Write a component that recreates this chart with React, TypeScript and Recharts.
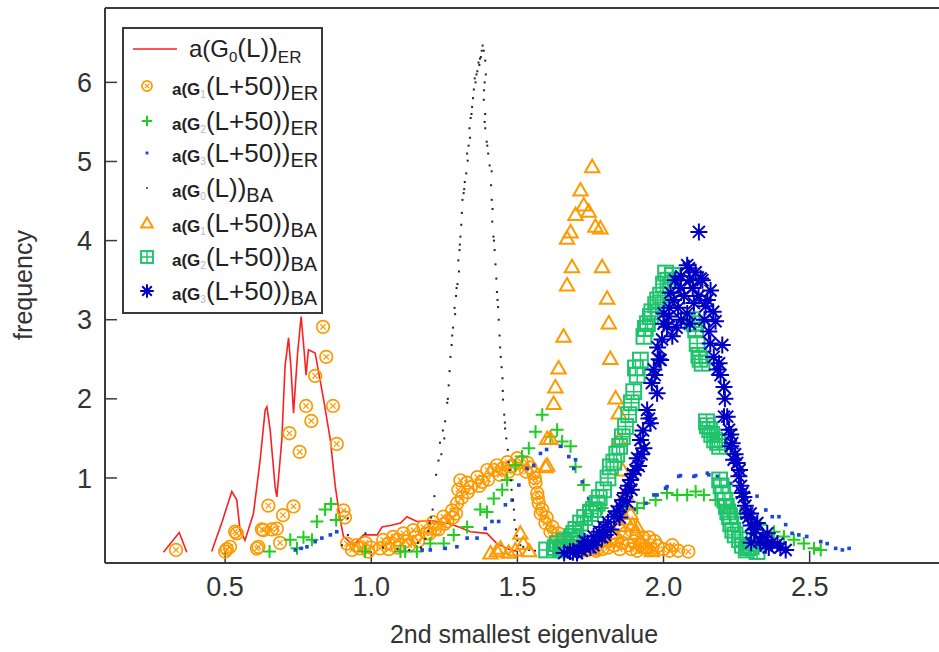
import React from 'react';
import { ComposedChart, Scatter, XAxis, YAxis } from 'recharts';

const FONT = '"Liberation Sans", Arial, Helvetica, sans-serif';
const TEXT = '#333333';
const AXIS = '#3a3a3a';
const RED = '#ff1f1f';
const ORANGE = '#ff9900';
const GREEN = '#22cc22';
const BLUE = '#1f45d6';
const BLACK = '#222222';
const EMERALD = '#1ec46c';
const NAVY = '#0000c4';

const X_TICKS = [0.5, 1.0, 1.5, 2.0, 2.5];
const Y_TICKS = [1, 2, 3, 4, 5, 6];
const X_DOMAIN = [0.089, 2.946];
const Y_DOMAIN = [-0.075, 6.94];

const X_LABEL = '2nd smallest eigenvalue';
const Y_LABEL = 'frequency';

// a(G0(L))ER  (red line, two segments)
const ER_G0_A = [[0.289, 0.06], [0.343, 0.31], [0.369, 0.06]];
const ER_G0_B = [
  [0.454, 0.07], [0.49, 0.45], [0.523, 0.83], [0.54, 0.72], [0.551, 0.34], [0.568, 0.21],
  [0.597, 0.55], [0.62, 1.23], [0.637, 1.86], [0.643, 1.9], [0.654, 1.61], [0.671, 0.89],
  [0.677, 0.76], [0.694, 1.48], [0.705, 2.41], [0.717, 2.77], [0.725, 2.41], [0.734, 1.82],
  [0.748, 2.58], [0.76, 3.04], [0.77, 2.62], [0.777, 2.3], [0.785, 2.62], [0.808, 2.58],
  [0.837, 1.99], [0.86, 1.48], [0.877, 0.89], [0.894, 0.47], [0.905, 0.26], [0.939, 0.15],
  [0.974, 0.28], [1.02, 0.28], [1.037, 0.38], [1.065, 0.4], [1.1, 0.43], [1.122, 0.51],
  [1.156, 0.45], [1.2, 0.46], [1.259, 0.43], [1.3, 0.38], [1.339, 0.32], [1.396, 0.3],
  [1.43, 0.17], [1.47, 0.1], [1.5, 0.07],
];

// a(G1(L+50))ER  (orange circles)
const ER_G1 = [
  [0.332, 0.09], [0.5, 0.07], [0.506, 0.1], [0.517, 0.13], [0.534, 0.32], [0.54, 0.3],
  [0.609, 0.11], [0.614, 0.13], [0.626, 0.35], [0.631, 0.34], [0.66, 0.35], [0.677, 0.36],
  [0.688, 0.18], [0.648, 0.65], [0.698, 0.53], [0.734, 0.64], [0.72, 1.565], [0.755, 1.33],
  [0.777, 1.91], [0.795, 1.72], [0.808, 2.29], [0.835, 2.91], [0.846, 2.53], [0.869, 1.91],
  [0.882, 1.43], [0.905, 0.59], [0.91, 0.5], [0.917, 0.17], [0.934, 0.09], [0.95, 0.15],
  [0.962, 0.11], [0.98, 0.18], [0.99, 0.07], [1.0, 0.12], [1.03, 0.11], [1.041, 0.216],
  [1.059, 0.17], [1.06, 0.1], [1.075, 0.255], [1.088, 0.22], [1.09, 0.12], [1.11, 0.3],
  [1.12, 0.2], [1.13, 0.15], [1.144, 0.34], [1.15, 0.25], [1.16, 0.2], [1.178, 0.38],
  [1.19, 0.3], [1.2, 0.3], [1.212, 0.44], [1.22, 0.36], [1.23, 0.35], [1.247, 0.51],
  [1.25, 0.42], [1.26, 0.45], [1.277, 0.59], [1.28, 0.5], [1.29, 0.55], [1.294, 0.68],
  [1.298, 0.85], [1.305, 0.97], [1.31, 0.75], [1.328, 0.94], [1.33, 0.82], [1.34, 0.88],
  [1.363, 1.01], [1.37, 0.9], [1.38, 0.95], [1.397, 1.1], [1.4, 0.98], [1.42, 1.1],
  [1.43, 1.16], [1.44, 1.04], [1.45, 1.12], [1.466, 1.2], [1.47, 1.08], [1.48, 1.15],
  [1.5, 1.25], [1.5, 1.12], [1.515, 1.2], [1.534, 1.19], [1.53, 1.08], [1.545, 1.13],
  [1.555, 1.06], [1.56, 1.0], [1.562, 0.94], [1.568, 0.81], [1.57, 0.75], [1.573, 0.68],
  [1.58, 0.55], [1.585, 0.6], [1.596, 0.43], [1.6, 0.5], [1.613, 0.32], [1.62, 0.38],
  [1.637, 0.24], [1.64, 0.3], [1.654, 0.18], [1.66, 0.1], [1.675, 0.2], [1.69, 0.12],
  [1.72, 0.1], [1.75, 0.14], [1.77, 0.08], [1.78, 0.18], [1.79, 0.1], [1.8, 0.22],
  [1.81, 0.12], [1.82, 0.25], [1.83, 0.15], [1.84, 0.22], [1.85, 0.1], [1.86, 0.18],
  [1.87, 0.3], [1.88, 0.15], [1.89, 0.1], [1.9, 0.2], [1.91, 0.08], [1.92, 0.15],
  [1.93, 0.25], [1.94, 0.12], [1.95, 0.25], [1.96, 0.1], [1.97, 0.2], [1.98, 0.14],
  [2.0, 0.1], [2.02, 0.08], [2.03, 0.15], [2.05, 0.08], [2.085, 0.07],
];

// a(G2(L+50))ER  (green plus)
const ER_G2 = [
  [0.652, 0.07], [0.723, 0.22], [0.746, 0.11], [0.768, 0.25], [0.797, 0.22], [0.814, 0.45],
  [0.842, 0.6], [0.862, 0.67], [0.88, 0.47], [0.979, 0.07], [1.1, 0.07], [1.116, 0.07],
  [1.156, 0.07], [1.202, 0.17], [1.248, 0.17], [1.282, 0.28], [1.328, 0.38], [1.373, 0.6],
  [1.396, 0.57], [1.419, 0.74], [1.448, 0.85], [1.465, 0.975], [1.493, 1.16], [1.516, 1.27],
  [1.539, 1.375], [1.562, 1.585], [1.585, 1.8], [1.613, 1.52], [1.636, 1.61], [1.653, 1.46],
  [1.682, 1.4], [1.699, 1.14], [1.727, 0.91], [1.744, 0.66], [1.79, 0.62], [1.84, 0.58],
  [1.87, 0.6], [1.91, 0.62], [1.933, 0.68], [1.973, 0.72], [2.012, 0.81], [2.047, 0.785],
  [2.081, 0.785], [2.11, 0.83], [2.138, 0.785], [2.178, 0.72], [2.207, 0.64], [2.23, 0.62],
  [2.264, 0.55], [2.298, 0.47], [2.332, 0.41], [2.378, 0.32], [2.412, 0.26], [2.446, 0.22],
  [2.48, 0.17], [2.515, 0.11], [2.538, 0.09],
];

// a(G3(L+50))ER  (blue small squares)
const ER_G3 = [
  [0.74, 0.09], [0.76, 0.11], [0.78, 0.13], [0.808, 0.195], [0.831, 0.24], [0.86, 0.28],
  [0.882, 0.32], [1.174, 0.09], [1.202, 0.09], [1.253, 0.11], [1.293, 0.13], [1.328, 0.24],
  [1.362, 0.24], [1.39, 0.36], [1.413, 0.45], [1.436, 0.45], [1.459, 0.66], [1.482, 0.72],
  [1.505, 0.91], [1.533, 1.12], [1.556, 1.16], [1.579, 1.31], [1.6, 1.36], [1.647, 1.4],
  [1.676, 1.27], [1.693, 1.12], [1.699, 1.23], [1.722, 0.95], [1.744, 0.74], [1.78, 0.6],
  [1.82, 0.55], [1.86, 0.55], [1.9, 0.6], [1.94, 0.68], [1.967, 0.785], [1.978, 0.785],
  [2.007, 0.87], [2.012, 0.89], [2.052, 1.02], [2.058, 1.03], [2.104, 1.02], [2.11, 1.03],
  [2.15, 1.06], [2.155, 1.04], [2.184, 1.02], [2.23, 0.93], [2.27, 0.85], [2.32, 0.77],
  [2.35, 0.595], [2.372, 0.51], [2.395, 0.51], [2.418, 0.41], [2.44, 0.3], [2.463, 0.28],
  [2.49, 0.26], [2.538, 0.195], [2.56, 0.17], [2.589, 0.11], [2.612, 0.09], [2.635, 0.11],
];

// a(G0(L))BA  (black dots)
const BA_G0 = [
  [0.9, 0.15], [0.92, 0.28], [0.92, 0.49], [0.98, 0.3], [1.04, 0.12], [1.09, 0.1],
  [1.13, 0.09], [1.16, 0.18], [1.17, 0.12], [1.185, 0.23], [1.195, 0.33], [1.2, 0.43],
  [1.205, 0.5], [1.21, 0.6], [1.216, 0.77], [1.222, 1.04], [1.23, 1.22], [1.235, 1.445],
  [1.24, 1.3], [1.245, 1.6], [1.25, 1.5], [1.253, 1.716], [1.26, 1.95], [1.262, 2.0],
  [1.265, 2.17], [1.268, 2.35], [1.271, 2.53], [1.275, 2.68], [1.277, 2.8], [1.28, 2.9],
  [1.285, 3.15], [1.287, 3.07], [1.29, 3.3], [1.292, 3.4], [1.295, 3.45], [1.298, 3.75],
  [1.3, 3.61], [1.302, 3.88], [1.303, 3.95], [1.305, 4.05], [1.308, 4.2], [1.31, 4.35],
  [1.312, 4.515], [1.316, 4.6], [1.318, 4.65], [1.32, 4.74], [1.325, 4.85], [1.328, 5.1],
  [1.33, 5.01], [1.333, 5.2], [1.336, 5.42], [1.338, 5.3], [1.34, 5.55], [1.343, 5.6],
  [1.345, 5.69], [1.348, 5.8], [1.351, 5.91], [1.354, 6.05], [1.357, 6.0], [1.36, 6.1],
  [1.363, 6.14], [1.367, 6.25], [1.37, 6.22], [1.372, 6.3], [1.375, 6.32], [1.378, 6.4],
  [1.381, 6.465], [1.385, 6.4], [1.39, 6.275], [1.392, 6.1], [1.388, 6.0], [1.386, 5.9],
  [1.385, 5.78], [1.39, 5.6], [1.388, 5.5], [1.39, 5.42], [1.395, 5.25], [1.397, 5.2],
  [1.4, 5.1], [1.405, 4.95], [1.412, 4.876], [1.41, 4.7], [1.412, 4.515], [1.415, 4.4],
  [1.414, 4.24], [1.418, 4.05], [1.42, 4.0], [1.422, 3.88], [1.425, 3.7], [1.428, 3.52],
  [1.43, 3.35], [1.432, 3.25], [1.434, 3.16], [1.436, 3.0], [1.439, 2.8], [1.441, 2.65],
  [1.443, 2.53], [1.446, 2.4], [1.449, 2.26], [1.45, 2.1], [1.451, 1.99], [1.455, 1.8],
  [1.457, 1.7], [1.458, 1.625], [1.462, 1.5], [1.467, 1.355], [1.47, 1.2], [1.474, 1.1],
  [1.478, 0.97], [1.48, 0.85], [1.485, 0.72], [1.488, 0.6], [1.49, 0.47], [1.495, 0.35],
  [1.498, 0.27], [1.5, 0.21], [1.51, 0.15], [1.52, 0.13], [1.53, 0.1], [1.54, 0.09], [1.56, 0.08],
];

// a(G1(L+50))BA  (orange triangles)
const BA_G1 = [
  [1.408, 0.05], [1.43, 0.08], [1.442, 0.11], [1.47, 0.06], [1.493, 0.09], [1.51, 0.3],
  [1.52, 0.17], [1.54, 0.08], [1.596, 1.14], [1.602, 1.16], [1.602, 1.5], [1.613, 1.5],
  [1.624, 1.94], [1.63, 2.15], [1.641, 2.39], [1.658, 2.79], [1.67, 3.44], [1.687, 3.67],
  [1.67, 4.03], [1.682, 4.11], [1.699, 4.33], [1.727, 4.45], [1.716, 4.64], [1.756, 4.935],
  [1.744, 4.37], [1.767, 4.18], [1.784, 4.16], [1.79, 3.67], [1.807, 3.27], [1.813, 2.96],
  [1.818, 2.51], [1.836, 2.01], [1.847, 1.82], [1.847, 1.48], [1.86, 1.1], [1.87, 0.8],
  [1.887, 0.55], [1.893, 0.41], [1.904, 0.3], [1.91, 0.38], [1.921, 0.19], [1.8, 0.2],
  [1.83, 0.3], [1.85, 0.4], [1.87, 0.48], [1.94, 0.12], [1.96, 0.08], [1.76, 0.1], [1.72, 0.08],
];

// a(G2(L+50))BA  (green grid squares)
const BA_G2 = [
  [1.6, 0.09], [1.63, 0.12], [1.637, 0.17], [1.647, 0.11], [1.653, 0.09], [1.66, 0.2],
  [1.664, 0.13], [1.68, 0.22], [1.687, 0.26], [1.693, 0.3], [1.7, 0.35], [1.716, 0.43],
  [1.73, 0.5], [1.75, 0.55], [1.76, 0.6], [1.773, 0.68], [1.78, 0.75], [1.795, 0.85],
  [1.81, 1.0], [1.818, 1.14], [1.83, 1.2], [1.84, 1.3], [1.85, 1.4], [1.859, 1.52],
  [1.87, 1.65], [1.881, 1.8], [1.89, 1.95], [1.898, 2.09], [1.904, 2.39], [1.91, 2.3],
  [1.921, 2.49], [1.933, 2.79], [1.938, 2.89], [1.945, 2.95], [1.955, 3.04], [1.96, 3.1],
  [1.973, 3.19], [1.98, 3.25], [1.99, 3.31], [2.0, 3.45], [2.007, 3.59], [2.015, 3.5],
  [2.024, 3.44], [2.03, 3.56], [2.098, 3.0], [2.105, 2.95], [2.11, 2.87], [2.115, 2.7],
  [2.121, 2.55], [2.125, 2.5], [2.132, 2.45], [2.147, 1.71], [2.15, 1.66], [2.158, 1.61],
  [2.165, 1.55], [2.175, 1.48], [2.185, 1.45], [2.192, 1.4], [2.192, 0.975], [2.197, 0.9],
  [2.203, 0.81], [2.21, 0.72], [2.215, 0.64], [2.22, 0.57], [2.226, 0.51], [2.23, 0.42],
  [2.237, 0.34], [2.245, 0.28], [2.26, 0.22], [2.27, 0.15], [2.283, 0.09], [2.29, 0.12],
  [2.3, 0.13], [2.32, 0.07],
];

// a(G3(L+50))BA  (navy asterisks)
const BA_G3 = [
  [1.66, 0.05], [1.68, 0.07], [1.69, 0.06], [1.704, 0.05], [1.71, 0.1], [1.72, 0.08],
  [1.727, 0.13], [1.73, 0.2], [1.74, 0.18], [1.75, 0.12], [1.76, 0.15], [1.761, 0.26],
  [1.77, 0.2], [1.78, 0.32], [1.79, 0.25], [1.795, 0.38], [1.8, 0.28], [1.81, 0.44],
  [1.82, 0.35], [1.83, 0.51], [1.84, 0.58], [1.85, 0.5], [1.853, 0.64], [1.86, 0.72],
  [1.87, 0.81], [1.875, 0.7], [1.88, 0.9], [1.887, 0.975], [1.89, 0.85], [1.895, 1.05],
  [1.904, 1.1], [1.91, 1.25], [1.915, 1.15], [1.921, 1.48], [1.925, 1.3], [1.933, 1.375],
  [1.93, 1.6], [1.944, 1.86], [1.95, 1.75], [1.955, 1.69], [1.96, 2.2], [1.967, 2.37],
  [1.97, 2.3], [1.978, 2.07], [1.98, 2.65], [1.985, 2.5], [1.99, 2.49], [1.995, 2.75],
  [2.0, 2.95], [2.001, 3.08], [2.012, 2.91], [2.018, 3.04], [2.02, 3.15], [2.024, 3.34],
  [2.03, 2.79], [2.035, 3.25], [2.04, 3.5], [2.045, 2.9], [2.05, 3.15], [2.058, 3.4],
  [2.06, 3.55], [2.06, 3.0], [2.07, 3.3], [2.081, 3.08], [2.081, 3.69], [2.087, 3.65],
  [2.09, 3.5], [2.09, 2.95], [2.1, 3.4], [2.104, 3.21], [2.11, 3.6], [2.12, 3.3],
  [2.121, 4.11], [2.127, 3.52], [2.133, 3.5], [2.14, 3.0], [2.144, 3.17], [2.15, 3.25],
  [2.155, 2.85], [2.161, 3.37], [2.16, 2.7], [2.17, 3.1], [2.172, 2.53], [2.178, 2.98],
  [2.184, 2.37], [2.19, 2.45], [2.195, 2.3], [2.201, 2.68], [2.207, 2.15], [2.21, 2.0],
  [2.207, 1.775], [2.218, 1.775], [2.224, 1.61], [2.23, 1.4], [2.23, 1.55], [2.235, 1.44],
  [2.24, 1.23], [2.245, 1.3], [2.252, 1.19], [2.258, 1.02], [2.26, 1.1], [2.265, 0.9],
  [2.269, 0.81], [2.275, 0.76], [2.28, 0.65], [2.286, 0.55], [2.29, 0.5], [2.298, 0.55],
  [2.3, 0.4], [2.3, 0.18], [2.31, 0.3], [2.315, 0.35], [2.321, 0.43], [2.33, 0.2],
  [2.34, 0.25], [2.35, 0.15], [2.355, 0.3], [2.36, 0.12], [2.37, 0.18], [2.39, 0.17],
  [2.4, 0.12], [2.418, 0.09],
];

const LEGEND_SUB = ['0', '1', '2', '3', '0', '1', '2', '3'];
const LEGEND_ARG = ['(L))', '(L+50))', '(L+50))', '(L+50))', '(L))', '(L+50))', '(L+50))', '(L+50))'];
const LEGEND_MODEL = ['ER', 'ER', 'ER', 'ER', 'BA', 'BA', 'BA', 'BA'];

const toPts = (a: number[][]) => a.map(([x, y]) => ({ x, y }));

// ---------- marker drawers ----------
const mCircleX = (cx: number, cy: number, s = 1) => {
  const r = 6.3 * s;
  const d = 2.7 * s;
  return (
    <g>
      <circle cx={cx} cy={cy} r={r} fill="none" stroke={ORANGE} strokeWidth={1.7} />
      <path d={`M${cx - d},${cy - d}L${cx + d},${cy + d}M${cx - d},${cy + d}L${cx + d},${cy - d}`} stroke={ORANGE} strokeWidth={1.2} />
    </g>
  );
};
const mPlus = (cx: number, cy: number, s = 1) => {
  const a = 6.5 * s;
  return <path d={`M${cx - a},${cy}L${cx + a},${cy}M${cx},${cy - a}L${cx},${cy + a}`} stroke={GREEN} strokeWidth={2} />;
};
const mBlueDot = (cx: number, cy: number, s = 1) => {
  const a = 1.8 * s;
  return <rect x={cx - a} y={cy - a} width={2 * a} height={2 * a} fill={BLUE} />;
};
const mBlackDot = (cx: number, cy: number, s = 1) => {
  const a = 1 * s;
  return <rect x={cx - a} y={cy - a} width={2 * a} height={2 * a} fill={BLACK} />;
};
const mTriangle = (cx: number, cy: number, s = 1) => {
  const w = 7.2 * s;
  const t = 7 * s;
  const b = 5.5 * s;
  return <path d={`M${cx},${cy - t}L${cx + w},${cy + b}L${cx - w},${cy + b}Z`} fill="none" stroke={ORANGE} strokeWidth={2} strokeLinejoin="miter" />;
};
const mGrid = (cx: number, cy: number, s = 1) => {
  const a = 7.4 * s;
  return (
    <g>
      <rect x={cx - a} y={cy - a} width={2 * a} height={2 * a} fill="none" stroke={EMERALD} strokeWidth={2} />
      <path d={`M${cx - a},${cy}L${cx + a},${cy}M${cx},${cy - a}L${cx},${cy + a}`} stroke={EMERALD} strokeWidth={1.4} />
    </g>
  );
};
const mStar = (cx: number, cy: number, s = 1) => {
  const a = 8.5 * s;
  const d = a * 0.707;
  return (
    <path
      d={`M${cx - a},${cy}L${cx + a},${cy}M${cx},${cy - a}L${cx},${cy + a}M${cx - d},${cy - d}L${cx + d},${cy + d}M${cx - d},${cy + d}L${cx + d},${cy - d}`}
      stroke={NAVY}
      strokeWidth={2}
    />
  );
};

const shapeOf = (fn: (cx: number, cy: number, s?: number) => React.ReactElement) => (p: any) => fn(p.cx, p.cy);
const noShape = () => <g />;

const LEGEND_MARKERS = [null, mCircleX, mPlus, mBlueDot, mBlackDot, mTriangle, mGrid, mStar];
const LEGEND_ROW_Y = [49, 86, 121, 153, 188, 223, 257, 291];

function LegendBox() {
  return (
    <svg width={939} height={652} style={{ position: 'absolute', left: 0, top: 0, pointerEvents: 'none' }}>
      <rect x={123} y={28} width={199} height={285} fill="#ffffff" stroke={AXIS} strokeWidth={2} />
      {LEGEND_ROW_Y.map((cy, i) => {
        if (i === 0) {
          return (
            <g key={i}>
              <line x1={133} x2={177} y1={cy} y2={cy} stroke={RED} strokeWidth={1.6} />
              <text x={189} y={cy + 7.5} fontFamily={FONT} fill="#222">
                <tspan fontSize={24}>a(G</tspan>
                <tspan fontSize={15} dy={5}>{LEGEND_SUB[i]}</tspan>
                <tspan fontSize={26} dy={-5}>{LEGEND_ARG[i]}</tspan>
                <tspan fontSize={17} dy={6.5}>{LEGEND_MODEL[i]}</tspan>
              </text>
            </g>
          );
        }
        const m = LEGEND_MARKERS[i]!;
        return (
          <g key={i}>
            {m(147, cy, 0.8)}
            <text x={172} y={cy + 8.5} fontFamily={FONT} fill="#222">
              <tspan fontSize={17} fontWeight="bold">a(G</tspan>
              <tspan fontSize={10} fill="#b8b8b8" dy={3}>{LEGEND_SUB[i]}</tspan>
              <tspan fontSize={26} dy={-3}>{LEGEND_ARG[i]}</tspan>
              <tspan fontSize={20} dy={5.5}>{LEGEND_MODEL[i]}</tspan>
            </text>
          </g>
        );
      })}
    </svg>
  );
}

export default function App() {
  const tickStyle = { fontSize: 27, fill: TEXT, fontFamily: FONT };
  const lineStyle = { stroke: AXIS, strokeWidth: 2 };
  const tickLineStyle = { stroke: AXIS, strokeWidth: 1.5 };
  return (
    <div style={{ position: 'absolute', left: 0, top: 0, width: 939, height: 652, overflow: 'hidden', background: '#fff' }}>
      <ComposedChart width={939} height={652} margin={{ top: 0, right: -2, bottom: 0, left: 0 }} style={{ overflow: 'hidden' }}>
        <XAxis
          xAxisId="b"
          type="number"
          dataKey="x"
          orientation="bottom"
          domain={X_DOMAIN}
          allowDataOverflow
          ticks={X_TICKS}
          interval={0}
          tickFormatter={(v: number) => v.toFixed(1)}
          height={89}
          tickSize={-12}
          tickMargin={26}
          tick={tickStyle}
          axisLine={lineStyle}
          tickLine={tickLineStyle}
          label={() => (
            <text x={524} y={643} textAnchor="middle" fontSize={25} fontFamily={FONT} fill={TEXT}>
              {X_LABEL}
            </text>
          )}
        />
        <XAxis
          xAxisId="t"
          type="number"
          dataKey="x"
          orientation="top"
          domain={X_DOMAIN}
          allowDataOverflow
          ticks={X_TICKS}
          interval={0}
          height={8}
          tickSize={-12}
          tick={false}
          axisLine={lineStyle}
          tickLine={tickLineStyle}
        />
        <YAxis
          yAxisId="l"
          type="number"
          dataKey="y"
          orientation="left"
          domain={Y_DOMAIN}
          allowDataOverflow
          ticks={Y_TICKS}
          interval={0}
          width={105}
          tickSize={-12}
          tickMargin={25}
          tick={tickStyle}
          axisLine={lineStyle}
          tickLine={tickLineStyle}
          label={() => (
            <text x={32} y={285} transform="rotate(-90 32 285)" textAnchor="middle" fontSize={25} fontFamily={FONT} fill={TEXT}>
              {Y_LABEL}
            </text>
          )}
        />
        <YAxis
          yAxisId="r"
          type="number"
          dataKey="y"
          orientation="right"
          domain={Y_DOMAIN}
          allowDataOverflow
          ticks={Y_TICKS}
          interval={0}
          width={1}
          tickSize={-10}
          tick={false}
          axisLine={lineStyle}
          tickLine={tickLineStyle}
        />
        <Scatter name="a(G0(L))ER a" xAxisId="b" yAxisId="l" data={toPts(ER_G0_A)} line={{ stroke: RED, strokeWidth: 1.6 }} shape={noShape} isAnimationActive={false} />
        <Scatter name="a(G0(L))ER" xAxisId="b" yAxisId="l" data={toPts(ER_G0_B)} line={{ stroke: RED, strokeWidth: 1.6 }} shape={noShape} isAnimationActive={false} />
        <Scatter name="a(G1(L+50))ER" xAxisId="b" yAxisId="l" data={toPts(ER_G1)} shape={shapeOf(mCircleX)} isAnimationActive={false} />
        <Scatter name="a(G2(L+50))ER" xAxisId="b" yAxisId="l" data={toPts(ER_G2)} shape={shapeOf(mPlus)} isAnimationActive={false} />
        <Scatter name="a(G3(L+50))ER" xAxisId="b" yAxisId="l" data={toPts(ER_G3)} shape={shapeOf(mBlueDot)} isAnimationActive={false} />
        <Scatter name="a(G0(L))BA" xAxisId="b" yAxisId="l" data={toPts(BA_G0)} shape={shapeOf(mBlackDot)} isAnimationActive={false} />
        <Scatter name="a(G1(L+50))BA" xAxisId="b" yAxisId="l" data={toPts(BA_G1)} shape={shapeOf(mTriangle)} isAnimationActive={false} />
        <Scatter name="a(G2(L+50))BA" xAxisId="b" yAxisId="l" data={toPts(BA_G2)} shape={shapeOf(mGrid)} isAnimationActive={false} />
        <Scatter name="a(G3(L+50))BA" xAxisId="b" yAxisId="l" data={toPts(BA_G3)} shape={shapeOf(mStar)} isAnimationActive={false} />
      </ComposedChart>
      <LegendBox />
    </div>
  );
}
